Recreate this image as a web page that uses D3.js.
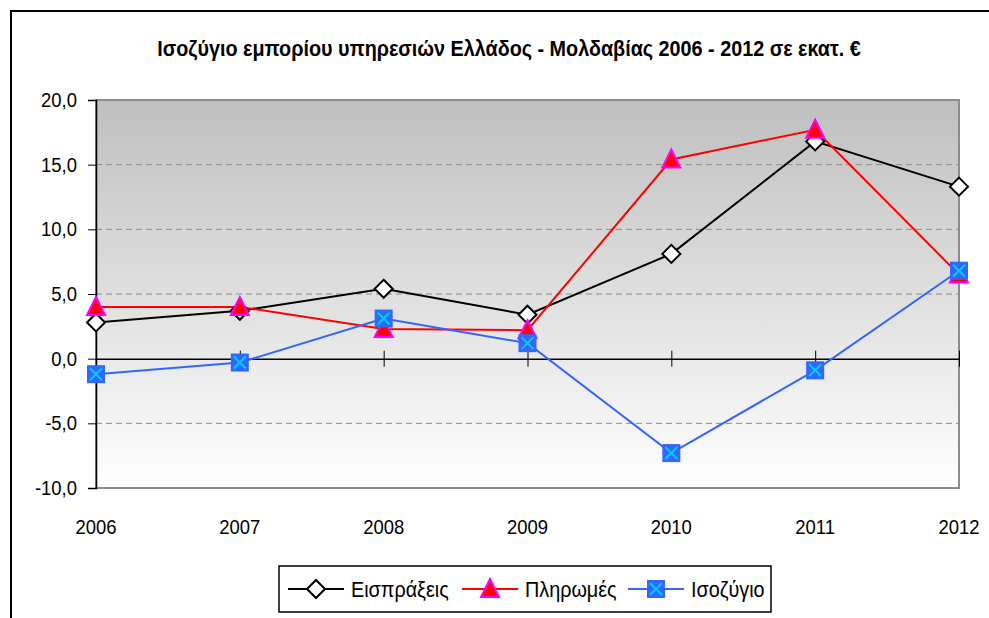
<!DOCTYPE html>
<html><head><meta charset="utf-8">
<script src="https://cdn.jsdelivr.net/npm/d3@7/dist/d3.min.js"></script>
<style>body{margin:0;background:#fff}svg{display:block}</style>
</head><body>
<script>
const years = ["2006","2007","2008","2009","2010","2011","2012"];
const receipts = [2.8, 3.7, 5.4, 3.4, 8.1, 16.8, 13.3];
const payments = [4.0, 4.0, 2.3, 2.2, 15.4, 17.7, 6.5];
const balance = [-1.2, -0.3, 3.1, 1.2, -7.3, -0.9, 6.8];
const seriesNames = ["Εισπράξεις", "Πληρωμές", "Ισοζύγιο"];
const yTicks = [-10, -5, 0, 5, 10, 15, 20];
const title = "Ισοζύγιο εμπορίου υπηρεσιών Ελλάδος - Μολδαβίας 2006 - 2012 σε εκατ. €";

const W = 989, H = 618;
const SX = 0.9;
const svg = d3.select("body").append("svg").attr("width", W).attr("height", H);
const font = "'Liberation Sans', Arial, sans-serif";

function sText(parent, x, y, str, size, anchor, weight) {
  return parent.append("text")
    .attr("transform", `translate(${x},${y}) scale(${SX},1)`)
    .attr("text-anchor", anchor || "start")
    .attr("font-family", font).attr("font-size", size)
    .attr("font-weight", weight || "normal").attr("fill", "#000").text(str);
}

// outer border
svg.append("rect").attr("x", 11).attr("y", 11).attr("width", W + 20).attr("height", H + 20)
  .attr("fill", "#fff").attr("stroke", "#000").attr("stroke-width", 2);

sText(svg, 509, 56, title, 22, "middle", "bold");

const x = d3.scalePoint().domain(years).range([96, 959]);
const y = d3.scaleLinear().domain([-10, 20]).range([488, 100]);

const defs = svg.append("defs");
const grad = defs.append("linearGradient").attr("id", "bg").attr("x1", 0).attr("y1", 0).attr("x2", 0).attr("y2", 1);
grad.append("stop").attr("offset", 0).attr("stop-color", "#bfbfbf");
grad.append("stop").attr("offset", 1).attr("stop-color", "#ffffff");

svg.append("rect").attr("x", 96).attr("y", y(20)).attr("width", 959 - 96).attr("height", y(-10) - y(20))
  .attr("fill", "url(#bg)").attr("stroke", "#8c8c8c").attr("stroke-width", 2);

// gridlines
svg.append("g").selectAll("line").data(yTicks.filter(d => d !== 0 && d !== -10 && d !== 20)).join("line")
  .attr("x1", 96).attr("x2", 959).attr("y1", d => y(d)).attr("y2", d => y(d))
  .attr("stroke", "#8c8c8c").attr("stroke-width", 1).attr("stroke-dasharray", "6,4");

// y axis
const yAxis = svg.append("g").attr("transform", "translate(96,0)")
  .call(d3.axisLeft(y).tickValues(yTicks).tickSize(8).tickFormat(""));
yAxis.select(".domain").attr("stroke", "#000").attr("stroke-width", 1.5);
yAxis.selectAll(".tick line").attr("stroke", "#000");
const fmt = d => d3.format(".1f")(d).replace(".", ",").replace("−", "-");
yTicks.forEach(t => sText(svg, 77, y(t) + 7, fmt(t), 20.5, "end"));

// x axis at zero
const xAxis = svg.append("g").attr("transform", `translate(0,${y(0)})`)
  .call(d3.axisBottom(x).tickSize(0).tickFormat(""));
xAxis.select(".domain").attr("stroke", "#000").attr("stroke-width", 1.5);
xAxis.selectAll(".tick").append("line").attr("y1", -8).attr("y2", 8).attr("stroke", "#000");

// x labels at bottom
years.forEach(yr => sText(svg, x(yr), 534, yr, 20.5, "middle"));

const line = d3.line().x((d, i) => x(years[i])).y(d => y(d));
const series = [
  {name: seriesNames[0], values: receipts, color: "#000000", marker: "diamond"},
  {name: seriesNames[1], values: payments, color: "#ff0000", marker: "triangle"},
  {name: seriesNames[2], values: balance, color: "#3366ff", marker: "square"}
];

function drawMarker(g, type, cx, cy) {
  if (type === "diamond") {
    g.append("path").attr("d", `M${cx},${cy-9}L${cx+9},${cy}L${cx},${cy+9}L${cx-9},${cy}Z`)
      .attr("fill", "#fff").attr("stroke", "#000").attr("stroke-width", 2);
  } else if (type === "triangle") {
    g.append("path").attr("d", `M${cx},${cy-10}L${cx+9},${cy+8}L${cx-9},${cy+8}Z`)
      .attr("fill", "#ff0000").attr("stroke", "#ff00ff").attr("stroke-width", 2);
  } else {
    g.append("rect").attr("x", cx - 9).attr("y", cy - 9).attr("width", 18).attr("height", 18).attr("fill", "#3366ff");
    g.append("path").attr("d", `M${cx-6},${cy-6}L${cx+6},${cy+6}M${cx+6},${cy-6}L${cx-6},${cy+6}`)
      .attr("stroke", "#00ccff").attr("stroke-width", 2);
  }
}

series.forEach(s => {
  svg.append("path").datum(s.values).attr("d", line).attr("fill", "none")
    .attr("stroke", s.color).attr("stroke-width", 2);
});
series.forEach(s => {
  const g = svg.append("g");
  s.values.forEach((v, i) => drawMarker(g, s.marker, x(years[i]), y(v)));
});

// legend
const lg = svg.append("g");
lg.append("rect").attr("x", 279).attr("y", 566).attr("width", 492).attr("height", 46)
  .attr("fill", "#fff").attr("stroke", "#000").attr("stroke-width", 1.5);
const legendX = [288, 462, 628];
series.forEach((s, i) => {
  const lx = legendX[i];
  lg.append("line").attr("x1", lx).attr("x2", lx + 56).attr("y1", 589).attr("y2", 589)
    .attr("stroke", s.color).attr("stroke-width", 2);
  drawMarker(lg, s.marker, lx + 28, 589);
  sText(lg, lx + 63, 597, s.name, 22, "start");
});
</script>
</body></html>
